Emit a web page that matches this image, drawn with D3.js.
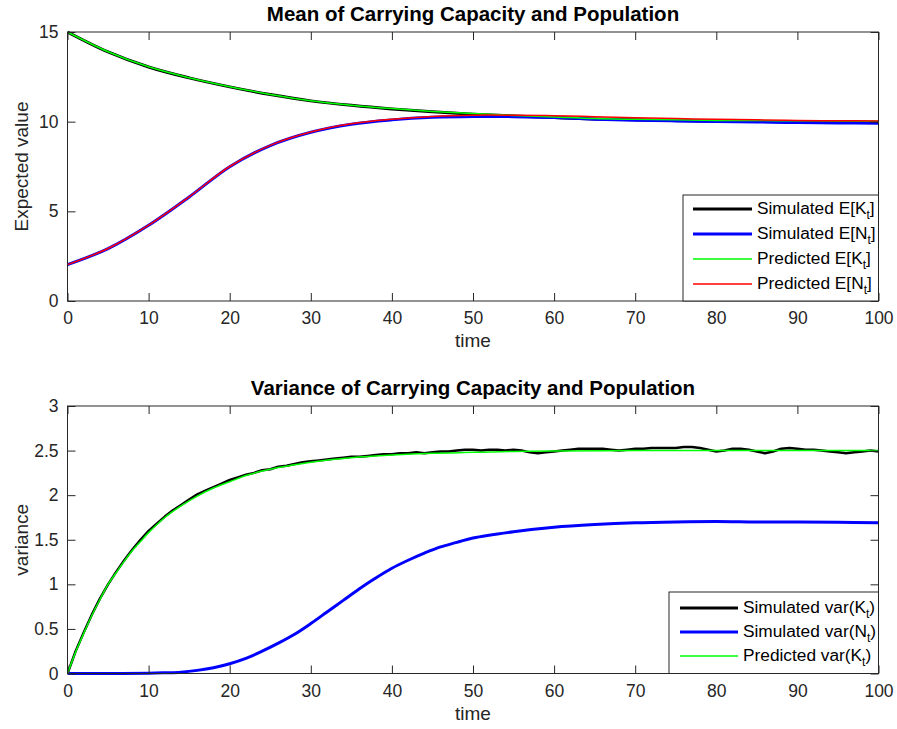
<!DOCTYPE html>
<html><head><meta charset="utf-8">
<script src="https://cdn.jsdelivr.net/npm/d3@7"></script>
<style>
body{margin:0;background:#fff;}
svg{display:block;font-family:"Liberation Sans",Arial,Helvetica,sans-serif;}
</style></head>
<body><svg id="c" width="897" height="729"></svg>
<script>
// ---------- DATA ----------
const tMean = [0,5,10,15,20,25,30,35,40,45,50,55,60,65,70,75,80,85,90,95,100];
const simEK  = [15,13.89,13.05,12.44,11.94,11.51,11.16,10.91,10.71,10.55,10.42,10.32,10.23,10.15,10.10,10.06,10.03,10.01,9.99,9.97,9.96];
const simEN  = [2.03,2.92,4.22,5.80,7.49,8.67,9.41,9.86,10.10,10.24,10.29,10.28,10.23,10.14,10.08,10.04,10.01,9.98,9.95,9.93,9.91];
const predEK = [15,13.90,13.06,12.45,11.95,11.52,11.17,10.92,10.73,10.57,10.45,10.35,10.26,10.17,10.13,10.10,10.07,10.06,10.05,10.04,10.03];
const predEN = [2.03,2.93,4.23,5.81,7.50,8.68,9.42,9.88,10.13,10.29,10.36,10.36,10.33,10.28,10.22,10.17,10.13,10.10,10.07,10.05,10.04];

const tVarK = d3.range(0,101); // time grid of simulated var(K), step 1
const simVarK = [0,0.25,0.46,0.66,0.84,1.00,1.14,1.27,1.39,1.50,1.60,1.68,1.76,1.83,1.89,1.95,2.01,2.05,2.09,2.13,
 2.17,2.20,2.23,2.25,2.28,2.29,2.32,2.33,2.35,2.37,2.38,2.39,2.40,2.41,2.42,2.43,2.43,2.44,2.45,2.46,
 2.46,2.47,2.47,2.48,2.47,2.48,2.49,2.49,2.50,2.51,2.51,2.50,2.51,2.51,2.50,2.51,2.50,2.48,2.47,2.48,
 2.49,2.50,2.51,2.52,2.52,2.52,2.52,2.51,2.50,2.51,2.52,2.52,2.53,2.53,2.53,2.53,2.54,2.54,2.53,2.51,
 2.49,2.50,2.52,2.52,2.51,2.49,2.47,2.49,2.52,2.53,2.52,2.51,2.51,2.50,2.49,2.48,2.47,2.48,2.49,2.50,2.49];

const tVarN = [0,5,10,12,14,16,18,20,22,24,26,28,30,32,34,36,38,40,42,44,46,48,50,55,60,65,70,75,80,85,90,95,100];
const simVarN = [0,0,0.003,0.008,0.015,0.035,0.065,0.11,0.17,0.25,0.34,0.44,0.56,0.69,0.82,0.95,1.07,1.18,1.27,1.35,1.42,1.47,1.52,1.59,1.64,1.67,1.69,1.70,1.705,1.70,1.70,1.695,1.69];

const tPredVarK = [0,1,2,3,4,5,6,7,8,9,10,12,14,16,18,20,22,24,26,28,30,35,40,45,50,55,60,70,80,90,100];
const predVarK  = [0,0.24,0.45,0.65,0.83,1.00,1.13,1.26,1.38,1.48,1.58,1.75,1.88,1.99,2.08,2.15,2.22,2.27,2.31,2.34,2.37,2.42,2.45,2.47,2.48,2.49,2.495,2.50,2.50,2.50,2.50];

const xTicks = [0,10,20,30,40,50,60,70,80,90,100];
const yTicksMean = [0,5,10,15];
const yTicksVar = [0,0.5,1,1.5,2,2.5,3];

// ---------- DRAW ----------
const svg = d3.select("#c");
const axCol = "#262626";
const L = 67.5, R = 878.5;
const smooth = d3.curveCatmullRom.alpha(0.5);

function panel(cfg){
  const g = svg.append("g");
  const x = d3.scaleLinear().domain([0,100]).range([L,R]);
  const y = d3.scaleLinear().domain(cfg.ydom).range([cfg.bottom,cfg.top]);
  const clipId = "clip"+cfg.id;
  svg.append("clipPath").attr("id",clipId).append("rect")
    .attr("x",L).attr("y",cfg.top-3).attr("width",R-L+2).attr("height",cfg.bottom-cfg.top+6);
  const lines = g.append("g").attr("clip-path","url(#"+clipId+")");
  cfg.series.forEach(s=>{
    const pts = s.t.map((t,i)=>[t,s.v[i]]);
    lines.append("path").datum(pts)
      .attr("fill","none").attr("stroke",s.color).attr("stroke-width",s.w)
      .attr("stroke-linejoin","round")
      .attr("d",d3.line().x(d=>x(d[0])).y(d=>y(d[1])).curve(s.curve||smooth));
  });
  // axes
  const fmt = d3.format("~g");
  const ax = (sel)=>{sel.selectAll(".domain").remove();
    sel.selectAll("line").attr("stroke",axCol);
    sel.selectAll("text").attr("fill",axCol).style("font-size","17.5px").style("font-family",'"Liberation Sans",Arial,sans-serif');};
  g.append("g").attr("transform",`translate(0,${cfg.bottom})`)
    .call(d3.axisBottom(x).tickValues(xTicks).tickFormat(fmt).tickSize(-8).tickPadding(11)).call(ax);
  g.append("g").attr("transform",`translate(0,${cfg.top})`)
    .call(d3.axisTop(x).tickValues(xTicks).tickFormat("").tickSize(-8)).call(ax);
  g.append("g").attr("transform",`translate(${L},0)`)
    .call(d3.axisLeft(y).tickValues(cfg.yticks).tickFormat(fmt).tickSize(-8).tickPadding(9)).call(ax);
  g.append("g").attr("transform",`translate(${R},0)`)
    .call(d3.axisRight(y).tickValues(cfg.yticks).tickFormat("").tickSize(-8)).call(ax);
  g.append("rect").attr("x",L).attr("y",cfg.top).attr("width",R-L).attr("height",cfg.bottom-cfg.top)
    .attr("fill","none").attr("stroke",axCol).attr("stroke-width",1);
  // title & labels
  g.append("text").attr("x",(L+R)/2).attr("y",cfg.top-11).attr("text-anchor","middle")
    .style("font-weight","bold").style("font-size","20.5px").attr("fill","#000").text(cfg.title);
  g.append("text").attr("x",(L+R)/2).attr("y",cfg.bottom+46).attr("text-anchor","middle")
    .style("font-size","19px").attr("fill",axCol).text("time");
  g.append("text").attr("transform",`translate(28,${(cfg.top+cfg.bottom)/2}) rotate(-90)`)
    .attr("text-anchor","middle").style("font-size","19px").attr("fill",axCol).text(cfg.ylabel);
  // legend
  const lg = cfg.legend;
  g.append("rect").attr("x",lg.x).attr("y",lg.y).attr("width",R-lg.x).attr("height",cfg.bottom-lg.y)
    .attr("fill","#fff").attr("stroke",axCol).attr("stroke-width",1);
  lg.items.forEach((it,i)=>{
    const yy = lg.y0 + i*lg.dy;
    g.append("line").attr("x1",lg.lx1).attr("x2",lg.lx2).attr("y1",yy).attr("y2",yy)
      .attr("stroke",it.color).attr("stroke-width",it.w);
    const tx = g.append("text").attr("x",lg.tx).attr("y",yy+5).style("font-size","17.3px").attr("fill","#000");
    tx.append("tspan").text(it.pre);
    tx.append("tspan").attr("dy",5).style("font-size","12px").text("t");
    tx.append("tspan").attr("dy",-5).text(it.post);
  });
}

panel({id:1, top:32, bottom:301, ydom:[0,15], yticks:yTicksMean,
  title:"Mean of Carrying Capacity and Population", ylabel:"Expected value",
  series:[
    {t:tMean, v:simEK, color:"#000", w:3},
    {t:tMean, v:simEN, color:"#0000ff", w:3},
    {t:tMean, v:predEK, color:"#00ff00", w:1.5},
    {t:tMean, v:predEN, color:"#ff0000", w:1.5}
  ],
  legend:{x:683, y:195, y0:209, dy:25, lx1:693, lx2:752, tx:757,
    items:[
      {color:"#000", w:3, pre:"Simulated E[K", post:"]"},
      {color:"#0000ff", w:3, pre:"Simulated E[N", post:"]"},
      {color:"#00ff00", w:1.5, pre:"Predicted E[K", post:"]"},
      {color:"#ff0000", w:1.5, pre:"Predicted E[N", post:"]"}
    ]}
});

panel({id:2, top:406, bottom:673.5, ydom:[0,3], yticks:yTicksVar,
  title:"Variance of Carrying Capacity and Population", ylabel:"variance",
  series:[
    {t:tVarK, v:simVarK, color:"#000", w:2.5, curve:d3.curveLinear},
    {t:tVarN, v:simVarN, color:"#0000ff", w:3},
    {t:tPredVarK, v:predVarK, color:"#00ff00", w:1.5}
  ],
  legend:{x:669, y:592, y0:608, dy:24, lx1:680, lx2:738, tx:743,
    items:[
      {color:"#000", w:3, pre:"Simulated var(K", post:")"},
      {color:"#0000ff", w:3, pre:"Simulated var(N", post:")"},
      {color:"#00ff00", w:1.5, pre:"Predicted var(K", post:")"}
    ]}
});
</script></body></html>
